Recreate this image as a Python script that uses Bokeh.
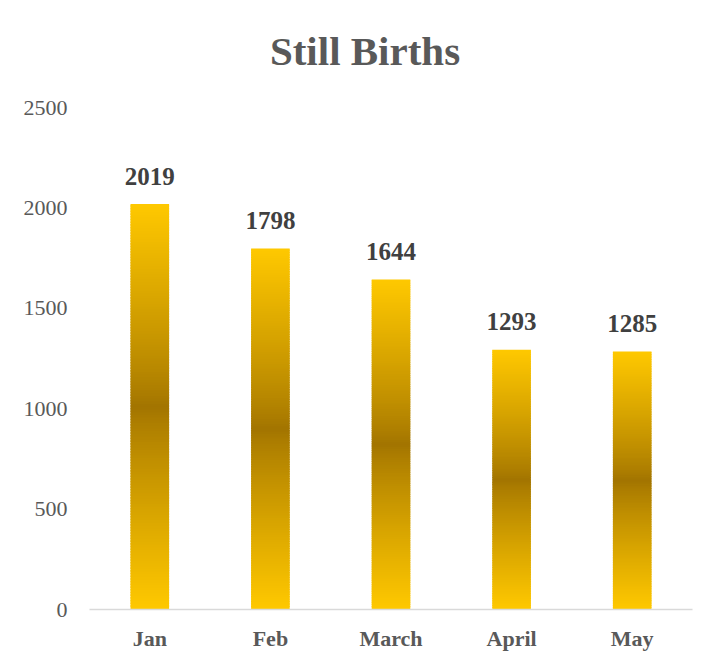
from bokeh.plotting import figure
from bokeh.models import Range1d, FactorRange, ColumnDataSource
from bokeh.core.properties import value
from bokeh.embed import file_html
from bokeh.resources import INLINE

months = ["Jan", "Feb", "March", "April", "May"]
births = [2019, 1798, 1644, 1293, 1285]
y_ticks = [0, 500, 1000, 1500, 2000, 2500]
title_text = "Still Births"

SERIF = "Liberation Serif"
GOLD = (255, 200, 0)
DARK = (162, 116, 0)
N = 150

# layout (pixels): axis top (2500) at 107, zero at 609, frame top at 10
FRAME_TOP, AXIS_TOP, AXIS_ZERO = 10, 107, 609
y_max = y_ticks[-1] * (AXIS_ZERO - FRAME_TOP) / (AXIS_ZERO - AXIS_TOP)

def mix(t):
    t = t ** 0.85
    r = round(DARK[0] + (GOLD[0] - DARK[0]) * t)
    g = round(DARK[1] + (GOLD[1] - DARK[1]) * t)
    b = round(DARK[2] + (GOLD[2] - DARK[2]) * t)
    return "#%02x%02x%02x" % (r, g, b)

xs, bots, tops, cols = [], [], [], []
for m, v in zip(months, births):
    for i in range(N):
        b0 = v * i / N
        b1 = min(v, v * (i + 1.6) / N)
        mid = (i + 0.5) / N
        d = abs(mid - 0.5) * 2
        xs.append(m)
        bots.append(b0)
        tops.append(b1)
        cols.append(mix(d))

p = figure(x_range=FactorRange(*months), y_range=Range1d(0, y_max),
           width=698, height=660, output_backend="svg", toolbar_location=None,
           min_border_left=89, min_border_right=6, min_border_top=FRAME_TOP,
           min_border_bottom=51)

p.vbar(x=xs, bottom=bots, top=tops, width=0.32, fill_color=cols, line_color=None)

src = ColumnDataSource(dict(x=months, y=births, t=[str(b) for b in births]))
p.text(x="x", y="y", text="t", source=src, text_align="center",
       text_baseline="alphabetic", y_offset=-28,
       text_font=value(SERIF), text_font_size="25px", text_font_style="bold",
       text_color="#404040")

# chart title, drawn in the empty band above the value axis
p.text(x=[months[2]], y=[y_max], text=[title_text], x_offset=-26, y_offset=40,
       text_align="center", text_baseline="middle",
       text_font=value(SERIF), text_font_size="41px", text_font_style="bold",
       text_color="#595959")

p.xgrid.grid_line_color = None
p.ygrid.grid_line_color = None
p.outline_line_color = None

p.yaxis.ticker = y_ticks
p.yaxis.axis_line_color = None
p.yaxis.major_tick_line_color = None
p.yaxis.minor_tick_line_color = None
p.yaxis.major_tick_out = 0
p.yaxis.major_label_standoff = 22
p.yaxis.major_label_text_font = SERIF
p.yaxis.major_label_text_font_size = "22px"
p.yaxis.major_label_text_color = "#595959"

p.xaxis.axis_line_color = "#D9D9D9"
p.xaxis.axis_line_width = 1.5
p.xaxis.major_tick_line_color = None
p.xaxis.major_tick_out = 0
p.xaxis.major_label_standoff = 16
p.xaxis.major_label_text_font = SERIF
p.xaxis.major_label_text_font_size = "22px"
p.xaxis.major_label_text_font_style = "bold"
p.xaxis.major_label_text_color = "#595959"

open("out.html", "w").write(file_html(p, INLINE))
